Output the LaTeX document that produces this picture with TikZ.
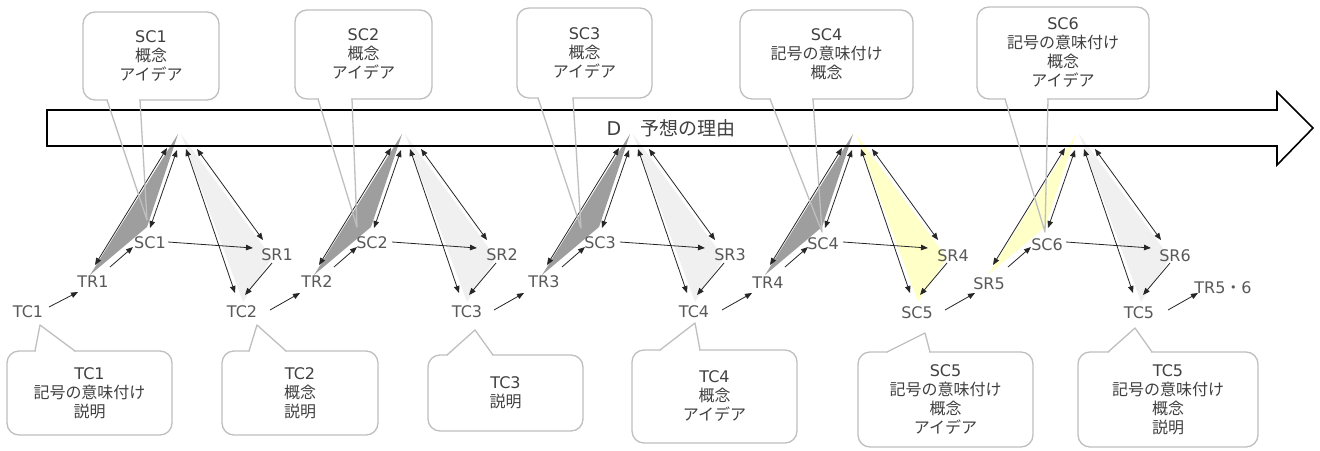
\documentclass[tikz,border=0pt]{standalone}
\usepackage{fontspec}
\setmainfont{DejaVu Sans}
\newfontfamily\jp{Noto Sans CJK JP}
\newfontfamily\lat{DejaVu Sans}
\usetikzlibrary{arrows.meta}
\definecolor{darkfill}{HTML}{9E9E9E}
\definecolor{lightfill}{HTML}{F0F0F0}
\definecolor{yelfill}{HTML}{FFFFC8}
\definecolor{lblc}{HTML}{595959}
\definecolor{txtc}{HTML}{404040}
\definecolor{bordc}{HTML}{BFBFBF}
\definecolor{arrc}{HTML}{262626}
\tikzset{
  >={Triangle[length=7pt,width=5.5pt]},
  dar/.style={<->, draw=arrc, line width=0.8pt},
  sar/.style={->, draw=arrc, line width=0.8pt},
  lbl/.style={text=lblc, font=\fontsize{16}{19}\selectfont, inner sep=0pt},
  callbox/.style={draw=bordc, line width=1.3pt, fill=white, rounded corners=12pt,
    align=center, text=txtc, font=\jp\fontsize{16}{19}\selectfont, inner sep=0pt},
  cbord/.style={draw=bordc, line width=1.3pt, line join=round},
  bigarrow/.style={draw=black, line width=1.6pt, line join=miter},
}
% group: #1 id, #2 apex x, #3 left fill, #4 right fill
\newcommand\grp[4]{%
\begin{scope}[shift={(#2,135)}]
  \coordinate (#1a) at (0,-1);
  \coordinate (#1l) at (-88,140);
  \coordinate (#1s) at (-31,92);
  \coordinate (#1b) at (3,-1);
  \coordinate (#1r) at (94,123);
  \coordinate (#1t) at (65,167);
  \fill[#3] (#1a) -- (#1l) -- (#1s) -- cycle;
  \fill[#4] (#1b) -- (#1r) -- (#1t) -- cycle;
  \coordinate (#1e1) at (-11,13); \coordinate (#1f1) at (-83,130);
  \coordinate (#1e2) at (-1,15);  \coordinate (#1f2) at (-28,93);
  \coordinate (#1e3) at (8,14);   \coordinate (#1f3) at (57,158);
  \coordinate (#1e4) at (19,14);  \coordinate (#1f4) at (85,105);
  \coordinate (#1g1) at (-68,132); \coordinate (#1h1) at (-45,112);
  \coordinate (#1g2) at (-10,107); \coordinate (#1h2) at (75,113);
  \coordinate (#1g3) at (94,128);  \coordinate (#1h3) at (67,160);
  \coordinate (#1g4) at (92,175);  \coordinate (#1h4) at (122,158);
  \draw[dar] (#1e1) -- (#1f1);
  \draw[dar] (#1e2) -- (#1f2);
  \draw[dar] (#1e3) -- (#1f3);
  \draw[dar] (#1e4) -- (#1f4);
  \draw[sar] (#1g1) -- (#1h1);
  \draw[sar] (#1g2) -- (#1h2);
  \draw[sar] (#1g3) -- (#1h3);
  \draw[sar] (#1g4) -- (#1h4);
\end{scope}}
% pointer: #1 edge y, #2 base x1, #3 base x2, #4 tip name
\newcommand\pointer[4]{%
  \fill[white] (#2+1,#1-1.6) rectangle (#3-1,#1+1.6);
  \draw[cbord] (#2,#1) -- (#4) -- (#3,#1);}
\begin{document}
\begin{tikzpicture}[x=1pt,y=-1pt]
\useasboundingbox (0,0) rectangle (1320,450);
\fill[white] (0,0) rectangle (1320,450);

% groups
\grp{ga}{178}{darkfill}{lightfill}
\grp{gb}{402}{darkfill}{lightfill}
\grp{gc}{630}{darkfill}{lightfill}
\grp{gd}{853}{darkfill}{yelfill}
\grp{ge}{1076}{yelfill}{lightfill}

% big arrow
\draw[bigarrow] (47,110) -- (1277,110) -- (1277,92) -- (1313,128) -- (1277,165) -- (1277,146) -- (47,146) -- cycle;
\node[text=txtc, font=\fontsize{19}{22}\selectfont, inner sep=0pt] (D) at (671,128) {D{\jp 　予想の理由}};

% first arrow
\coordinate (s0) at (49,307);
\coordinate (e0) at (78,292);
\draw[sar] (s0) -- (e0);

% labels
\node[lbl] (TC1) at (28,312) {TC1};
\node[lbl] (TR1) at (93,282) {TR1};
\node[lbl] (SC1) at (150,243) {SC1};
\node[lbl] (SR1) at (277,255) {SR1};
\node[lbl] (TC2) at (242,312) {TC2};
\node[lbl] (TR2) at (317,282) {TR2};
\node[lbl] (SC2) at (372,243) {SC2};
\node[lbl] (SR2) at (502,255) {SR2};
\node[lbl] (TC3) at (467,312) {TC3};
\node[lbl] (TR3) at (544,282) {TR3};
\node[lbl] (SC3) at (600,243) {SC3};
\node[lbl] (SR3) at (730,255) {SR3};
\node[lbl] (TC4) at (694,312) {TC4};
\node[lbl] (TR4) at (768,283) {TR4};
\node[lbl] (SC4) at (823,244) {SC4};
\node[lbl] (SR4) at (953,256) {SR4};
\node[lbl] (SC5) at (917,313) {SC5};
\node[lbl] (SR5) at (989,284) {SR5};
\node[lbl] (SC6) at (1047,245) {SC6};
\node[lbl] (SR6) at (1175,256) {SR6};
\node[lbl] (TC5) at (1139,313) {TC5};
\node[lbl] (TR56) at (1223,288) {TR5{\jp ・}6};

% callout tips
\coordinate (tSC1) at (147,220);
\coordinate (tSC2) at (357,227);
\coordinate (tSC3) at (581,228);
\coordinate (tSC4) at (822,232);
\coordinate (tSC6) at (1045,232);
\coordinate (tTC1) at (40,325);
\coordinate (tTC2) at (257,325);
\coordinate (tTC3) at (475,330);
\coordinate (tTC4) at (695,323);
\coordinate (tSC5) at (925,333);
\coordinate (tTC5) at (1135,328);

% callouts top
\node[callbox, minimum width=136pt, minimum height=88pt] (cSC1) at (151,56) {{\lat SC1}\\概念\\アイデア};
\pointer{100}{107}{140}{tSC1}
\node[callbox, minimum width=137pt, minimum height=89pt] (cSC2) at (363.5,54.5) {{\lat SC2}\\概念\\アイデア};
\pointer{99}{318}{352}{tSC2}
\node[callbox, minimum width=135pt, minimum height=90pt] (cSC3) at (584.5,53) {{\lat SC3}\\概念\\アイデア};
\pointer{98}{538}{573}{tSC3}
\node[callbox, minimum width=173pt, minimum height=89pt] (cSC4) at (826.5,54.5) {{\lat SC4}\\記号の意味付け\\概念};
\pointer{99}{770}{813}{tSC4}
\node[callbox, minimum width=172pt, minimum height=92pt] (cSC6) at (1063,53) {{\lat SC6}\\記号の意味付け\\概念\\アイデア};
\pointer{99}{1005}{1048}{tSC6}

% callouts bottom
\node[callbox, minimum width=165pt, minimum height=84pt] (cTC1) at (89.5,393) {{\lat TC1}\\記号の意味付け\\説明};
\pointer{351}{35}{75}{tTC1}
\node[callbox, minimum width=156pt, minimum height=84pt] (cTC2) at (300,393) {{\lat TC2}\\概念\\説明};
\pointer{351}{249}{286}{tTC2}
\node[callbox, minimum width=155pt, minimum height=76pt] (cTC3) at (505.5,393) {{\lat TC3}\\説明};
\pointer{355}{447}{493}{tTC3}
\node[callbox, minimum width=165pt, minimum height=93pt] (cTC4) at (714.5,396.5) {{\lat TC4}\\概念\\アイデア};
\pointer{350}{660}{700}{tTC4}
\node[callbox, minimum width=175pt, minimum height=95pt] (cSC5) at (945.5,399.5) {{\lat SC5}\\記号の意味付け\\概念\\アイデア};
\pointer{352}{887}{930}{tSC5}
\node[callbox, minimum width=180pt, minimum height=95pt] (cTC5) at (1168,399.5) {{\lat TC5}\\記号の意味付け\\概念\\説明};
\pointer{352}{1108}{1152}{tTC5}
\end{tikzpicture}
\end{document}
